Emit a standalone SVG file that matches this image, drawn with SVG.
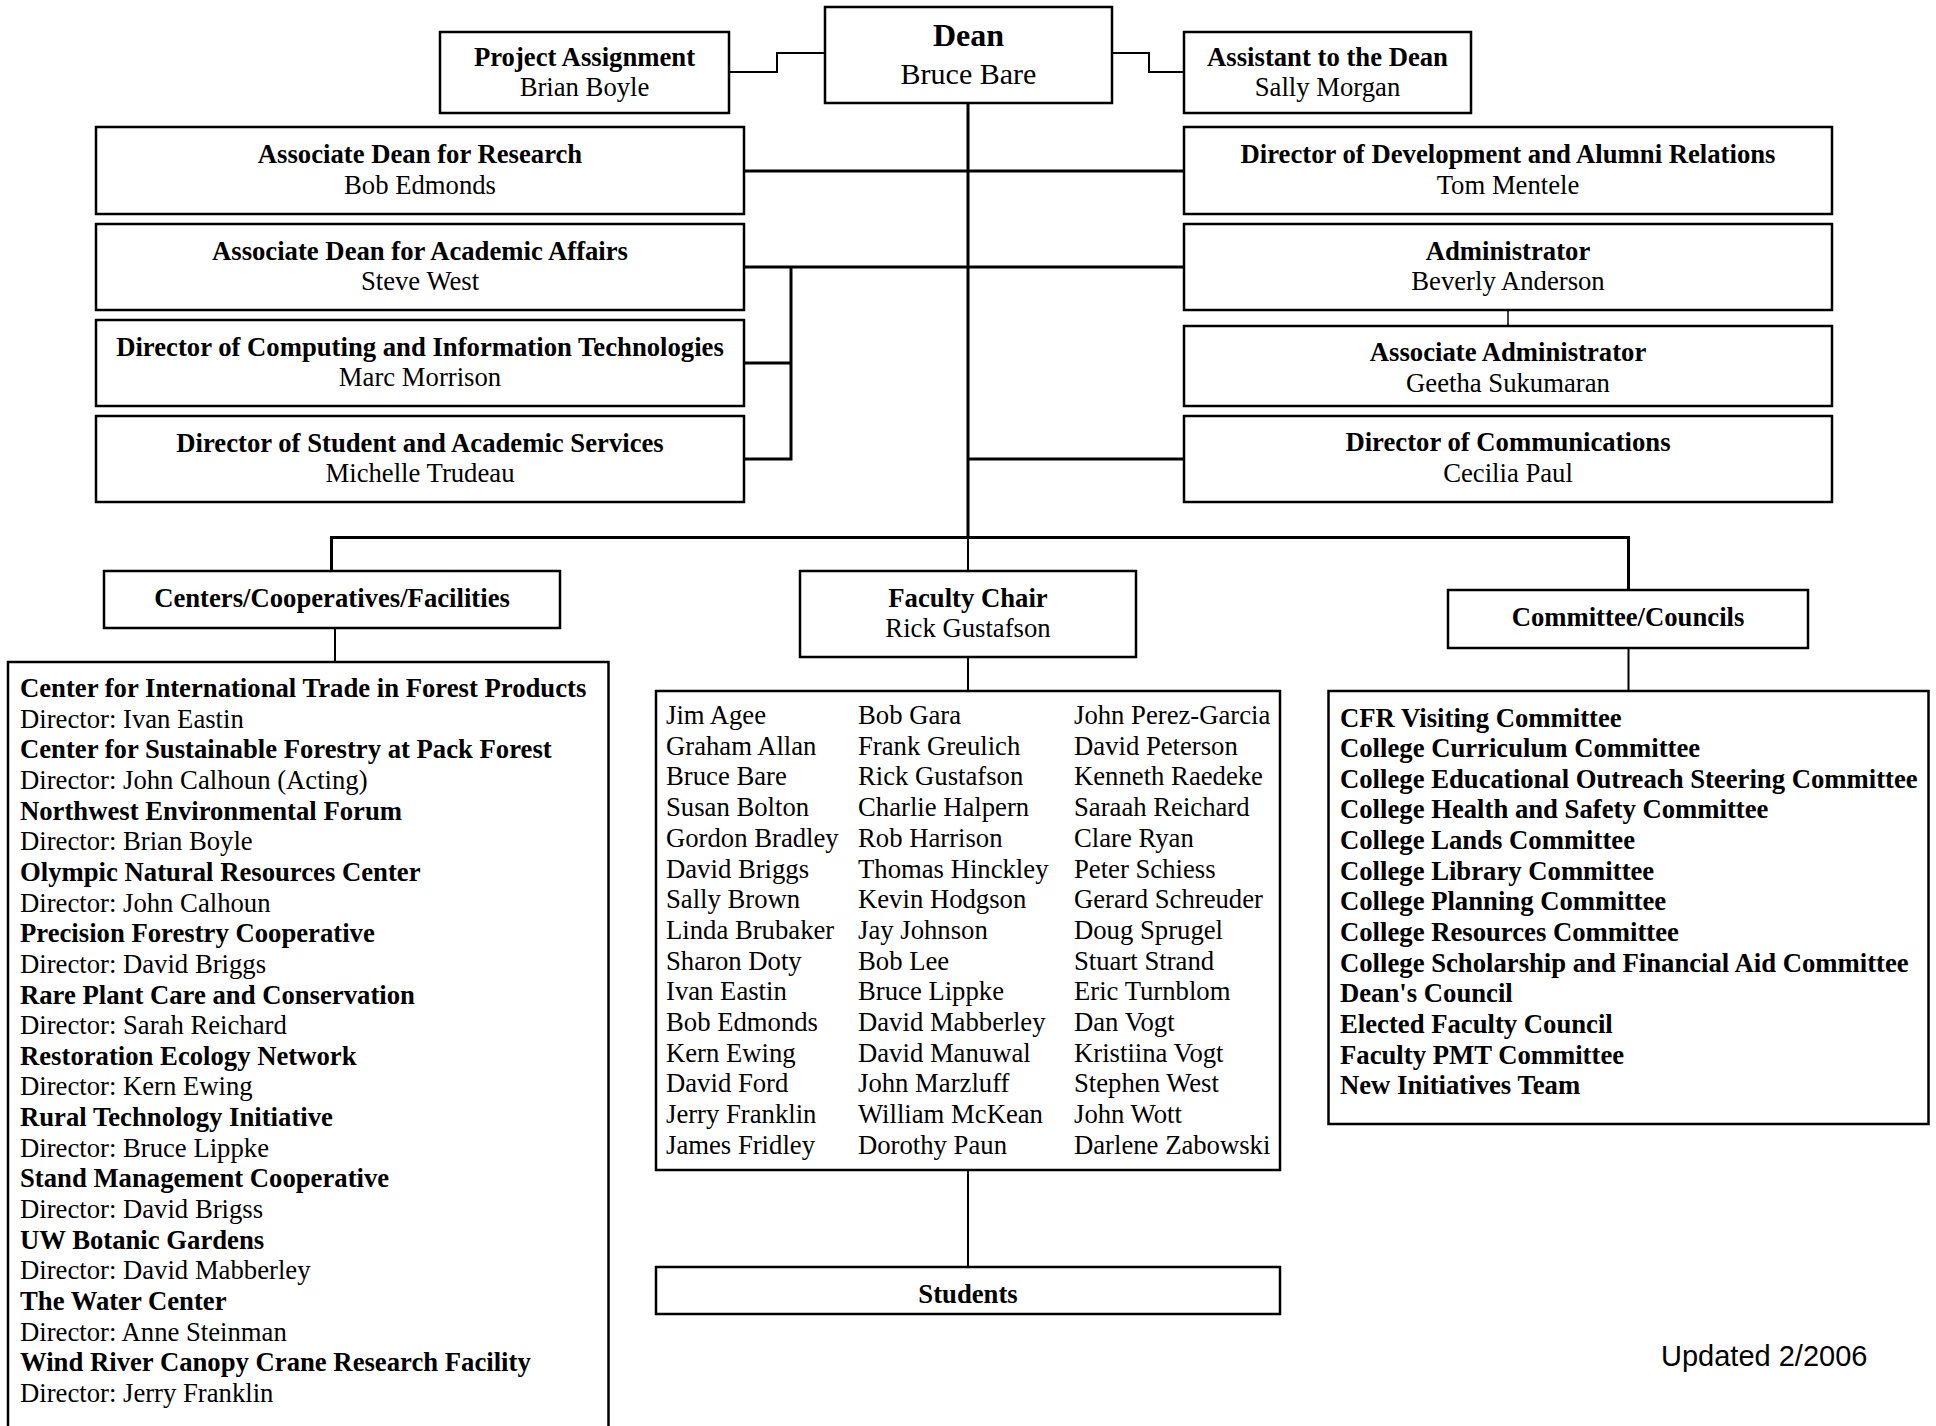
<svg xmlns="http://www.w3.org/2000/svg" width="1936" height="1426" viewBox="0 0 1936 1426">
<style>
.box{fill:#fff;stroke:#000;stroke-width:2.5}
.ln{fill:none;stroke:#000;stroke-width:3}
.thin{fill:none;stroke:#000;stroke-width:2}
.hair{fill:none;stroke:#000;stroke-width:1.5}
text{font-family:"Liberation Serif","Times New Roman",serif;font-size:26.7px;fill:#000}
.b{font-weight:bold}
.c{text-anchor:middle}
</style>
<rect width="1936" height="1426" fill="#fff"/>
<g id="connectors">
<polyline class="thin" points="729,72 777,72 777,53 825,53"/>
<polyline class="thin" points="1112,53 1149,53 1149,72 1184,72"/>
<line class="ln" x1="968" y1="103" x2="968" y2="538"/>
<line class="ln" x1="744" y1="171" x2="1184" y2="171"/>
<line class="ln" x1="744" y1="267" x2="1184" y2="267"/>
<polyline class="ln" points="791,267 791,459 744,459"/>
<line class="ln" x1="744" y1="363" x2="791" y2="363"/>
<line class="ln" x1="968" y1="459" x2="1184" y2="459"/>
<line class="hair" x1="1508" y1="310" x2="1508" y2="326"/>
<polyline class="ln" points="331.5,571 331.5,537.5 1628.5,537.5 1628.5,590"/>
<line class="thin" x1="968" y1="537" x2="968" y2="571"/>
<line class="thin" x1="335" y1="628" x2="335" y2="662"/>
<line class="thin" x1="968" y1="657" x2="968" y2="691"/>
<line class="thin" x1="968" y1="1170" x2="968" y2="1267"/>
<line class="thin" x1="1628.5" y1="648" x2="1628.5" y2="691"/>
</g>
<g id="dean">
<rect class="box" x="825" y="7" width="287" height="96"/>
<text class="b c" x="968.5" y="45.5" style="font-size:32px">Dean</text>
<text class="c" x="968.5" y="84" style="font-size:30px">Bruce Bare</text>
</g>
<g id="project-assignment">
<rect class="box" x="440" y="32" width="289" height="81"/>
<text class="b c" x="584.5" y="65.5">Project Assignment</text>
<text class="c" x="584.5" y="96">Brian Boyle</text>
</g>
<g id="assistant-to-dean">
<rect class="box" x="1184" y="32" width="287" height="81"/>
<text class="b c" x="1327.5" y="65.5">Assistant to the Dean</text>
<text class="c" x="1327.5" y="96">Sally Morgan</text>
</g>
<g id="assoc-dean-research">
<rect class="box" x="96" y="127" width="648" height="87"/>
<text class="b c" x="420" y="163">Associate Dean for Research</text>
<text class="c" x="420" y="193.5">Bob Edmonds</text>
</g>
<g id="assoc-dean-academic">
<rect class="box" x="96" y="224" width="648" height="86"/>
<text class="b c" x="420" y="259.5">Associate Dean for Academic Affairs</text>
<text class="c" x="420" y="290">Steve West</text>
</g>
<g id="dir-computing">
<rect class="box" x="96" y="320" width="648" height="86"/>
<text class="b c" x="420" y="355.5">Director of Computing and Information Technologies</text>
<text class="c" x="420" y="386">Marc Morrison</text>
</g>
<g id="dir-student">
<rect class="box" x="96" y="416" width="648" height="86"/>
<text class="b c" x="420" y="451.5">Director of Student and Academic Services</text>
<text class="c" x="420" y="482">Michelle Trudeau</text>
</g>
<g id="dir-development">
<rect class="box" x="1184" y="127" width="648" height="87"/>
<text class="b c" x="1508" y="163">Director of Development and Alumni Relations</text>
<text class="c" x="1508" y="193.5">Tom Mentele</text>
</g>
<g id="administrator">
<rect class="box" x="1184" y="224" width="648" height="86"/>
<text class="b c" x="1508" y="259.5">Administrator</text>
<text class="c" x="1508" y="290">Beverly Anderson</text>
</g>
<g id="assoc-administrator">
<rect class="box" x="1184" y="326" width="648" height="80"/>
<text class="b c" x="1508" y="361">Associate Administrator</text>
<text class="c" x="1508" y="391.5">Geetha Sukumaran</text>
</g>
<g id="dir-communications">
<rect class="box" x="1184" y="416" width="648" height="86"/>
<text class="b c" x="1508" y="451">Director of Communications</text>
<text class="c" x="1508" y="481.5">Cecilia Paul</text>
</g>
<g id="centers">
<rect class="box" x="104" y="571" width="456" height="57"/>
<text class="b c" x="332" y="607">Centers/Cooperatives/Facilities</text>
</g>
<g id="centers-list">
<rect class="box" x="8" y="662" width="600.5" height="780"/>
<text x="20" y="697">
<tspan class="b" x="20">Center for International Trade in Forest Products</tspan>
<tspan x="20" dy="30.65">Director: Ivan Eastin</tspan>
<tspan class="b" x="20" dy="30.65">Center for Sustainable Forestry at Pack Forest</tspan>
<tspan x="20" dy="30.65">Director: John Calhoun (Acting)</tspan>
<tspan class="b" x="20" dy="30.65">Northwest Environmental Forum</tspan>
<tspan x="20" dy="30.65">Director: Brian Boyle</tspan>
<tspan class="b" x="20" dy="30.65">Olympic Natural Resources Center</tspan>
<tspan x="20" dy="30.65">Director: John Calhoun</tspan>
<tspan class="b" x="20" dy="30.65">Precision Forestry Cooperative</tspan>
<tspan x="20" dy="30.65">Director: David Briggs</tspan>
<tspan class="b" x="20" dy="30.65">Rare Plant Care and Conservation</tspan>
<tspan x="20" dy="30.65">Director: Sarah Reichard</tspan>
<tspan class="b" x="20" dy="30.65">Restoration Ecology Network</tspan>
<tspan x="20" dy="30.65">Director: Kern Ewing</tspan>
<tspan class="b" x="20" dy="30.65">Rural Technology Initiative</tspan>
<tspan x="20" dy="30.65">Director: Bruce Lippke</tspan>
<tspan class="b" x="20" dy="30.65">Stand Management Cooperative</tspan>
<tspan x="20" dy="30.65">Director: David Brigss</tspan>
<tspan class="b" x="20" dy="30.65">UW Botanic Gardens</tspan>
<tspan x="20" dy="30.65">Director: David Mabberley</tspan>
<tspan class="b" x="20" dy="30.65">The Water Center</tspan>
<tspan x="20" dy="30.65">Director: Anne Steinman</tspan>
<tspan class="b" x="20" dy="30.65">Wind River Canopy Crane Research Facility</tspan>
<tspan x="20" dy="30.65">Director: Jerry Franklin</tspan>
</text>
</g>
<g id="faculty-chair">
<rect class="box" x="800" y="571" width="336" height="86"/>
<text class="b c" x="968" y="607">Faculty Chair</text>
<text class="c" x="968" y="637">Rick Gustafson</text>
</g>
<g id="faculty-list">
<rect class="box" x="656" y="691" width="624" height="479"/>
<text y="724">
<tspan x="666">Jim Agee</tspan>
<tspan x="666" dy="30.7">Graham Allan</tspan>
<tspan x="666" dy="30.7">Bruce Bare</tspan>
<tspan x="666" dy="30.7">Susan Bolton</tspan>
<tspan x="666" dy="30.7">Gordon Bradley</tspan>
<tspan x="666" dy="30.7">David Briggs</tspan>
<tspan x="666" dy="30.7">Sally Brown</tspan>
<tspan x="666" dy="30.7">Linda Brubaker</tspan>
<tspan x="666" dy="30.7">Sharon Doty</tspan>
<tspan x="666" dy="30.7">Ivan Eastin</tspan>
<tspan x="666" dy="30.7">Bob Edmonds</tspan>
<tspan x="666" dy="30.7">Kern Ewing</tspan>
<tspan x="666" dy="30.7">David Ford</tspan>
<tspan x="666" dy="30.7">Jerry Franklin</tspan>
<tspan x="666" dy="30.7">James Fridley</tspan>
</text>
<text y="724">
<tspan x="858">Bob Gara</tspan>
<tspan x="858" dy="30.7">Frank Greulich</tspan>
<tspan x="858" dy="30.7">Rick Gustafson</tspan>
<tspan x="858" dy="30.7">Charlie Halpern</tspan>
<tspan x="858" dy="30.7">Rob Harrison</tspan>
<tspan x="858" dy="30.7">Thomas Hinckley</tspan>
<tspan x="858" dy="30.7">Kevin Hodgson</tspan>
<tspan x="858" dy="30.7">Jay Johnson</tspan>
<tspan x="858" dy="30.7">Bob Lee</tspan>
<tspan x="858" dy="30.7">Bruce Lippke</tspan>
<tspan x="858" dy="30.7">David Mabberley</tspan>
<tspan x="858" dy="30.7">David Manuwal</tspan>
<tspan x="858" dy="30.7">John Marzluff</tspan>
<tspan x="858" dy="30.7">William McKean</tspan>
<tspan x="858" dy="30.7">Dorothy Paun</tspan>
</text>
<text y="724">
<tspan x="1074">John Perez-Garcia</tspan>
<tspan x="1074" dy="30.7">David Peterson</tspan>
<tspan x="1074" dy="30.7">Kenneth Raedeke</tspan>
<tspan x="1074" dy="30.7">Saraah Reichard</tspan>
<tspan x="1074" dy="30.7">Clare Ryan</tspan>
<tspan x="1074" dy="30.7">Peter Schiess</tspan>
<tspan x="1074" dy="30.7">Gerard Schreuder</tspan>
<tspan x="1074" dy="30.7">Doug Sprugel</tspan>
<tspan x="1074" dy="30.7">Stuart Strand</tspan>
<tspan x="1074" dy="30.7">Eric Turnblom</tspan>
<tspan x="1074" dy="30.7">Dan Vogt</tspan>
<tspan x="1074" dy="30.7">Kristiina Vogt</tspan>
<tspan x="1074" dy="30.7">Stephen West</tspan>
<tspan x="1074" dy="30.7">John Wott</tspan>
<tspan x="1074" dy="30.7">Darlene Zabowski</tspan>
</text>
</g>
<g id="students">
<rect class="box" x="656" y="1267" width="624" height="47"/>
<text class="b c" x="968" y="1303">Students</text>
</g>
<g id="committees">
<rect class="box" x="1448" y="590" width="360" height="58"/>
<text class="b c" x="1628" y="626">Committee/Councils</text>
</g>
<g id="committee-list">
<rect class="box" x="1328.5" y="691" width="600" height="433"/>
<text class="b" y="726.5">
<tspan x="1340">CFR Visiting Committee</tspan>
<tspan x="1340" dy="30.65">College Curriculum Committee</tspan>
<tspan x="1340" dy="30.65">College Educational Outreach Steering Committee</tspan>
<tspan x="1340" dy="30.65">College Health and Safety Committee</tspan>
<tspan x="1340" dy="30.65">College Lands Committee</tspan>
<tspan x="1340" dy="30.65">College Library Committee</tspan>
<tspan x="1340" dy="30.65">College Planning Committee</tspan>
<tspan x="1340" dy="30.65">College Resources Committee</tspan>
<tspan x="1340" dy="30.65">College Scholarship and Financial Aid Committee</tspan>
<tspan x="1340" dy="30.65">Dean's Council</tspan>
<tspan x="1340" dy="30.65">Elected Faculty Council</tspan>
<tspan x="1340" dy="30.65">Faculty PMT Committee</tspan>
<tspan x="1340" dy="30.65">New Initiatives Team</tspan>
</text>
</g>
<text x="1661" y="1366" style="font-family:'Liberation Sans',Arial,sans-serif;font-size:29px">Updated 2/2006</text>
</svg>
